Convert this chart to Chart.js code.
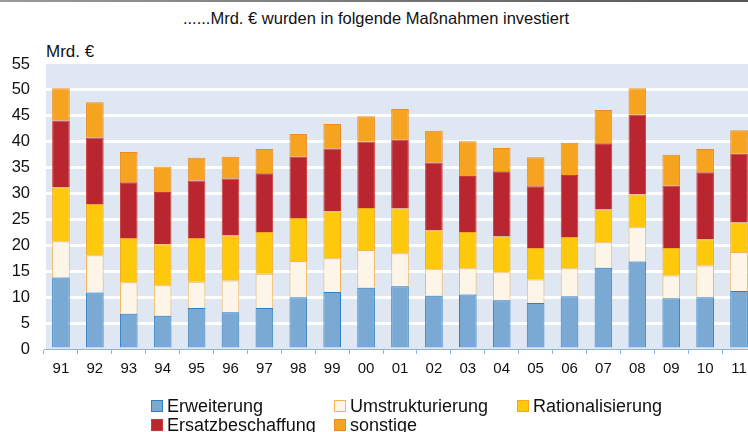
<!DOCTYPE html>
<html>
<head>
<meta charset="utf-8">
<script src="https://cdn.jsdelivr.net/npm/chart.js@4/dist/chart.umd.min.js"></script>
<style>
  html, body { margin:0; padding:0; background:#fff; overflow:hidden; }
  #wrap { position:relative; width:748px; height:432px; overflow:hidden; font-family:"Liberation Sans", Arial, sans-serif; }
  #topline { position:absolute; left:0; top:0; width:748px; height:2px; background:linear-gradient(to right,#9a9a9a,#555); }
  #title { position:absolute; top:9px; left:2px; width:748px; text-align:center; font-size:16.5px; color:#111; }
  #unit { position:absolute; top:42px; left:46px; font-size:17px; color:#111; }
  #cv { position:absolute; left:0; top:0; }
  .lg { position:absolute; font-size:18px; color:#111; line-height:18px; white-space:nowrap; }
  .lg i { position:absolute; left:0; top:2px; width:10px; height:10px; border:1px solid; }
  .lg span { position:absolute; left:16px; top:-1px; }
</style>
</head>
<body>
<div id="wrap">
  <div id="topline"></div>
  <div id="title">......Mrd. € wurden in folgende Maßnahmen investiert</div>
  <div id="unit">Mrd. €</div>
  <canvas id="cv" width="756" height="432"></canvas>
</div>
<script>
const categories = ["91","92","93","94","95","96","97","98","99","00","01","02","03","04","05","06","07","08","09","10","11"];
const erweiterung      = [13.8,10.9,6.8,6.4,7.9,7.1,7.9,10.0,11.0,11.8,12.1,10.3,10.5,9.4,8.9,10.2,15.7,16.9,9.8,10.0,11.2];
const umstrukturierung = [7.0,7.2,6.1,5.9,5.1,6.1,6.6,7.0,6.5,7.3,6.4,5.1,5.1,5.4,4.5,5.4,4.9,6.6,4.4,6.1,7.5];
const rationalisierung = [10.4,9.9,8.5,7.9,8.4,8.7,8.1,8.3,9.1,8.1,8.6,7.5,7.0,6.9,6.1,6.0,6.3,6.3,5.3,5.1,5.7];
const ersatz           = [12.9,12.8,10.8,10.1,11.1,11.0,11.3,11.8,12.1,12.8,13.3,13.1,10.8,12.6,11.9,12.0,12.8,15.4,12.0,12.9,13.3];
const sonstige         = [6.2,6.8,5.8,4.9,4.4,4.2,4.7,4.4,4.7,4.9,5.9,6.1,6.7,4.5,5.6,6.2,6.4,5.1,6.0,4.5,4.5];
const yTicks = [0,5,10,15,20,25,30,35,40,45,50,55];

const series = [
  { label:"Erweiterung", data:erweiterung, bg:"#7aaad3", bd:"#2f7fc1" },
  { label:"Umstrukturierung", data:umstrukturierung, bg:"#fdf5e8", bd:"#f6b455" },
  { label:"Rationalisierung", data:rationalisierung, bg:"#fec80c", bd:"#f5a623" },
  { label:"Ersatzbeschaffung", data:ersatz, bg:"#b9262f", bd:"#cc3a32" },
  { label:"sonstige", data:sonstige, bg:"#f6a31f", bd:"#ee8a25" }
];

const bgPlugin = {
  id:"bgPlugin",
  beforeDraw(chart){
    const a = chart.chartArea, c = chart.ctx;
    c.save(); c.fillStyle = "#dfe7f3";
    c.fillRect(a.left+2, a.top, a.right-a.left-2, a.bottom-a.top);
    c.restore();
  }
};

new Chart(document.getElementById("cv"), {
  type:"bar",
  data:{
    labels:categories,
    datasets:series.map(s => ({
      label:s.label, data:s.data, backgroundColor:s.bg, borderColor:s.bd,
      borderWidth:1, barPercentage:0.52, categoryPercentage:1.0
    }))
  },
  options:{
    responsive:false, animation:false,
    layout:{ padding:{ top:64, right:0, bottom:0, left:0 } },
    plugins:{ legend:{ display:false }, tooltip:{ enabled:false } },
    scales:{
      x:{
        stacked:true,
        grid:{ display:true, drawOnChartArea:false, offset:true, color:"#8fb3d9", tickLength:5 },
        border:{ display:true, color:"#8fb3d9", width:1 },
        ticks:{ color:"#111", font:{ family:"Liberation Sans", size:15 }, padding:6, maxRotation:0, autoSkip:false },
        afterFit(s){ s.height = 83; }
      },
      y:{
        stacked:true, min:0, max:55,
        afterBuildTicks(s){ s.ticks = yTicks.map(v => ({ value:v })); },
        grid:{ drawTicks:false, lineWidth:3,
          color:ctx => (ctx.tick && (ctx.tick.value === 55 || ctx.tick.value === 0)) ? "rgba(0,0,0,0)" : "#ffffff" },
        border:{ display:false },
        ticks:{ color:"#111", font:{ family:"Liberation Sans", size:16.5 }, padding:14 },
        afterFit(s){ s.width = 44; }
      }
    }
  },
  plugins:[bgPlugin]
});

const legendPos = [
  { x:151, y:398 }, { x:334, y:398 }, { x:517, y:398 },
  { x:151, y:417 }, { x:334, y:417 }
];
series.forEach((s, i) => {
  const d = document.createElement("div");
  d.className = "lg";
  d.style.left = legendPos[i].x + "px";
  d.style.top = legendPos[i].y + "px";
  d.innerHTML = '<i style="background:' + s.bg + ';border-color:' + s.bd + '"></i><span>' + s.label + '</span>';
  document.getElementById("wrap").appendChild(d);
});
</script>
</body>
</html>
